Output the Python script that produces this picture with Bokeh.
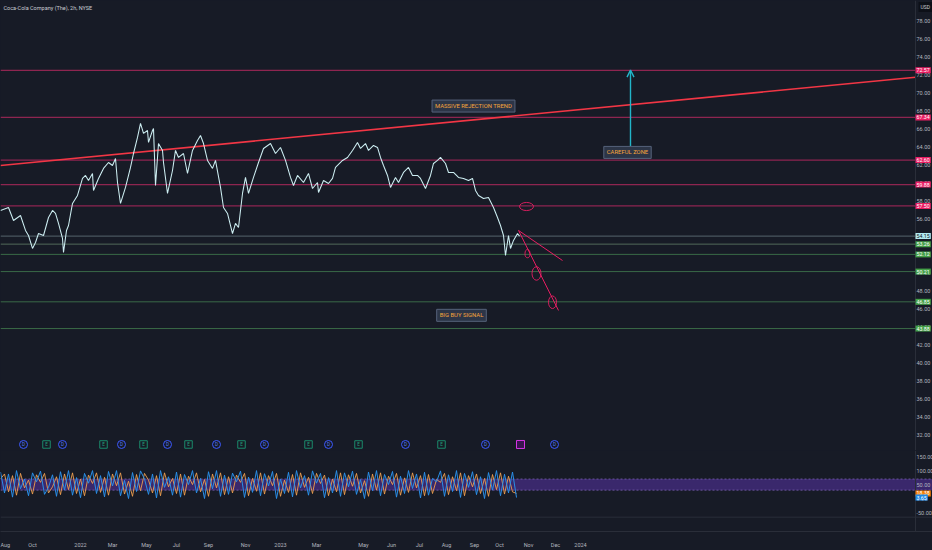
from bokeh.plotting import figure
from bokeh.layouts import column
from bokeh.models import (Range1d, FixedTicker, Label, Span, BoxAnnotation, Arrow, OpenHead,
                          GlobalInlineStyleSheet)
from bokeh.embed import file_html
from bokeh.resources import INLINE
from bokeh.core.properties import value

# ---------------- data ----------------
# price series (bar index, close)
bar = [0, 8, 13, 20, 25, 28, 32, 35, 38, 43, 48, 52, 55, 58, 62, 63, 66, 68, 72, 77,
       82, 85, 88, 92, 93, 98, 103, 108, 112, 115, 117, 120, 125, 130, 133, 137, 140, 143, 147, 148,
       152, 153, 155, 158, 162, 163, 167, 172, 175, 178, 183, 187, 192, 197, 200, 203, 207, 212, 215, 220,
       223, 227, 232, 235, 238, 242, 245, 248, 253, 258, 263, 270, 275, 280, 285, 290, 293, 297, 303, 308,
       312, 317, 318, 323, 328, 332, 335, 342, 347, 352, 357, 360, 365, 368, 373, 377, 380, 383, 387, 390,
       395, 398, 403, 408, 412, 417, 420, 425, 430, 433, 437, 440, 445, 448, 453, 458, 463, 468, 472, 475,
       478, 483, 488, 493, 497, 500, 503, 505, 508, 510, 513, 517, 519]
close = [57.00, 57.33, 55.89, 56.44, 54.78, 54.22, 52.78, 53.44, 54.44, 54.22, 56.22, 57.00, 56.67, 55.56, 53.89, 52.33, 54.78, 55.33, 57.78, 58.67,
         60.56, 60.89, 60.33, 61.11, 59.22, 60.56, 61.67, 62.33, 62.00, 62.78, 60.11, 57.78, 59.56, 61.78, 63.33, 65.11, 66.67, 65.56, 65.89, 64.56,
         65.89, 66.11, 59.78, 64.44, 63.67, 62.33, 58.89, 61.44, 63.67, 62.89, 63.33, 61.11, 63.67, 64.78, 65.33, 64.44, 62.56, 61.67, 62.56, 59.56,
         57.33, 56.67, 54.44, 55.56, 55.11, 58.89, 60.67, 58.89, 60.67, 62.33, 63.89, 64.44, 63.33, 64.00, 62.56, 60.67, 59.78, 60.89, 60.11, 61.11,
         59.44, 60.11, 59.00, 60.33, 60.00, 60.56, 61.78, 62.56, 62.89, 63.67, 64.56, 63.89, 64.44, 63.67, 64.22, 64.00, 62.89, 62.00, 60.89, 59.56,
         60.67, 60.11, 61.22, 61.78, 60.89, 60.89, 60.56, 59.44, 60.89, 62.22, 62.56, 62.89, 62.22, 61.22, 61.22, 60.67, 60.56, 60.33, 60.56, 59.22,
         58.67, 58.33, 58.44, 57.33, 56.22, 55.33, 54.22, 52.00, 54.22, 52.78, 53.67, 54.44, 54.15]

# horizontal price levels
res_levels = [72.57, 67.34, 62.60, 59.88, 57.50]
last_price = [54.15]
sup_levels = [53.26, 52.12, 50.21, 46.85, 43.88]

# drawings
trend_bar = [0, 915]
trend_price = [62.0, 71.8]
fan_bar = [518, 562, 518, 558]
fan_price = [54.78, 51.44, 54.78, 45.89]
circle_bar = [526, 536, 552, 527]
circle_price = [57.44, 50.0, 46.8, 52.2]
arrow_bar = [630, 630]
arrow_price = [64.1, 72.6]
notes = ["MASSIVE REJECTION TREND", "CAREFUL ZONE", "BIG BUY SIGNAL"]
note_bar = [473, 627, 461]
note_price = [68.6, 63.45, 45.35]

# events
dividend_bar = [23, 62, 121, 167, 216, 264, 328, 405, 485, 554]
earnings_bar = [46, 103, 143, 188, 241, 308, 358, 441]
next_earnings_bar = [520]
event_price = 31.0

# Stoch RSI
stoch_k = [95, 20, 88, 5, 100, 35, 70, 10, 92, 60,
           98, 15, 40, 85, 8, 96, 30, 100, 12, 75,
           3, 90, 55, 100, 18, 82, 6, 97, 45, 100,
           10, 65, 0, 93, 25, 99, 70, 15, 88, 2,
           100, 40, 78, 12, 95, 5, 86, 50, 100, 20,
           72, 0, 96, 35, 100, 8, 84, 15, 91, 60,
           98, 4, 77, 22, 100, 10, 89, 45, 97, 0,
           70, 18, 94, 6, 100, 38, 82, 12, 99, 55,
           90, 3, 75, 20, 100, 8, 92, 42, 98, 15,
           68, 0, 95, 28, 100, 10, 86, 50, 97, 5,
           80, 18, 100, 36, 88, 2, 94, 12, 72, 60,
           99, 8, 85, 25, 100, 4, 90, 40, 96, 14,
           78, 0, 93, 30, 100, 10, 87, 20, 95, 3.65]
stoch_d = [70, 88, 24, 82, 12, 90, 38, 66, 16, 85,
           58, 90, 20, 42, 78, 14, 88, 32, 92, 18,
           70, 10, 84, 54, 92, 22, 76, 12, 88, 46,
           92, 16, 62, 8, 86, 28, 90, 66, 20, 82,
           10, 92, 42, 72, 18, 88, 12, 80, 50, 92,
           24, 68, 8, 88, 38, 92, 14, 78, 20, 84,
           58, 90, 10, 72, 26, 92, 16, 82, 46, 90,
           8, 66, 22, 86, 12, 92, 40, 76, 18, 90,
           54, 84, 10, 70, 24, 92, 14, 85, 44, 90,
           20, 64, 8, 88, 30, 92, 16, 80, 50, 90,
           12, 74, 22, 92, 38, 82, 10, 86, 18, 68,
           58, 90, 14, 78, 28, 92, 10, 82, 42, 88,
           18, 72, 8, 86, 32, 92, 16, 80, 24, 18.38]
stoch_step = 4
band = [30, 70]

# axes
tick_bar = [0, 32, 80, 112, 146, 176, 208, 245, 280, 316, 363, 391, 419, 446, 474, 499, 528, 555, 580]
tick_label = ["Aug", "Oct", "2022", "Mar", "May", "Jul", "Sep", "Nov", "2023", "Mar",
              "May", "Jun", "Jul", "Aug", "Sep", "Oct", "Nov", "Dec", "2024"]
price_ticks = [32, 34, 36, 38, 40, 42, 44, 46, 48, 50, 52, 54, 56, 58, 60, 62, 64, 66, 68, 70,
               72, 74, 76, 78]
osc_ticks = [-50, 0, 50, 100, 150]

# ---------------- style ----------------
BG = "#171b26"
GRID = "#2a2e39"
AXIS_TXT = "#b2b5be"
FONT = "Roboto"
PINK = "#e91e63"
PINK_LINE = "#8e2550"
GREEN = "#43a047"
GREEN_LINE = "#3a6a47"
W = 932
X_END = 932       # full canvas width in bar units
SCALE_X = 915     # where the price scale begins
LAB_X = 916

x_range = Range1d(0, X_END)


def style_fig(f):
    f.grid.visible = False
    f.outline_line_color = None


# ---------------- main pane ----------------
p1 = figure(width=W, height=450, x_range=x_range, y_range=Range1d(30.33, 80.33),
            output_backend="svg", toolbar_location=None, x_axis_location=None,
            y_axis_location=None, min_border=0,
            background_fill_color=BG, border_fill_color=BG)
style_fig(p1)

# levels
p1.segment(x0=[0] * len(res_levels), x1=[SCALE_X] * len(res_levels), y0=res_levels, y1=res_levels,
           line_color=PINK_LINE, line_width=1.2)
p1.segment(x0=[0], x1=[SCALE_X], y0=last_price, y1=last_price, line_color="#56646c", line_width=1)
p1.segment(x0=[0] * len(sup_levels), x1=[SCALE_X] * len(sup_levels), y0=sup_levels, y1=sup_levels,
           line_color=["#52695a"] + [GREEN_LINE] * (len(sup_levels) - 1), line_width=1)

# trend line
p1.line(trend_bar, trend_price, line_color="#f23645", line_width=1.6)

# price
p1.line(bar, close, line_color="#cdeef2", line_width=1.05)

# fan lines
p1.segment(x0=fan_bar[0::2], y0=fan_price[0::2], x1=fan_bar[1::2], y1=fan_price[1::2],
           line_color=PINK, line_width=1)
# circles
p1.ellipse(x=circle_bar, y=circle_price, width=[14, 9, 8, 5], height=[0.9, 1.5, 1.4, 0.9],
           fill_alpha=0, line_color=PINK, line_width=0.9)

# events
n_div = len(dividend_bar)
p1.scatter(dividend_bar, [event_price] * n_div, marker="circle", size=8,
           fill_color=BG, line_color="#3d5afe", line_width=1)
p1.text(dividend_bar, [event_price] * n_div, text=["D"] * n_div,
        text_font=value(FONT), text_font_size="4.5px", text_color="#5c7cfa",
        text_align="center", text_baseline="middle")
n_earn = len(earnings_bar)
p1.scatter(earnings_bar, [event_price] * n_earn, marker="square", size=7.5,
           fill_color=BG, line_color="#1b8a6b", line_width=1)
p1.text(earnings_bar, [event_price] * n_earn, text=["E"] * n_earn,
        text_font=value(FONT), text_font_size="4.5px", text_color="#26a67f",
        text_align="center", text_baseline="middle")
p1.scatter(next_earnings_bar, [event_price], marker="square", size=8,
           fill_color="#3a1450", line_color="#d633e6", line_width=1)

# price scale: separator + tick labels
p1.add_layout(Span(location=SCALE_X, dimension="height", line_color=GRID, line_width=1))
p1.add_layout(Span(location=30.33, dimension="width", line_color=GRID, line_width=1))
p1.text([LAB_X] * len(price_ticks), price_ticks, text=[f"{t:.2f}" for t in price_ticks],
        text_font=value(FONT), text_font_size="5.5px", text_color=AXIS_TXT,
        text_align="left", text_baseline="middle")

# arrow
p1.add_layout(Arrow(end=OpenHead(size=7, line_color="#22b5c9", line_width=1.4),
                    x_start=arrow_bar[0], y_start=arrow_price[0],
                    x_end=arrow_bar[1], y_end=arrow_price[1],
                    line_color="#22b5c9", line_width=1.4))

# notes
for t, xb, yp in zip(notes, note_bar, note_price):
    p1.add_layout(Label(x=xb, y=yp, text=t, text_align="center", text_baseline="middle",
                        text_font=FONT, text_font_size="5.9px", text_color="#f7a53b",
                        background_fill_color="#2c3547", border_line_color="#55627a",
                        border_line_width=1, padding=3))


def axis_label(fig, v, bg, fg):
    fig.add_layout(Label(x=SCALE_X, y=v, x_offset=0, text=f"{v:.2f}", text_align="left",
                         text_baseline="middle", text_font=FONT, text_font_size="5.3px",
                         text_color=fg, background_fill_color=bg, padding=1))


for v in res_levels:
    axis_label(p1, v, PINK, "white")
axis_label(p1, last_price[0], "#b2ebf2", "#131722")
for v in sup_levels:
    axis_label(p1, v, GREEN, "white")

# title + currency
p1.add_layout(Label(x=0, y=79.55, x_offset=3, text="Coca-Cola Company (The), 2h, NYSE",
                    text_baseline="middle", text_font=FONT, text_font_size="5.5px",
                    text_color="#c8cbd3"))
p1.add_layout(Label(x=LAB_X, y=79.6, x_offset=2, text="USD", text_baseline="middle",
                    text_font=FONT, text_font_size="5px", text_color="#c8cbd3",
                    background_fill_color="#0d1018", padding=2))

# ---------------- oscillator pane ----------------
p2 = figure(width=W, height=100, x_range=x_range, y_range=Range1d(-118, 172),
            output_backend="svg", toolbar_location=None, y_axis_location=None,
            min_border_left=0, min_border_right=0, min_border_top=0, min_border_bottom=13,
            background_fill_color=BG, border_fill_color=BG)
style_fig(p2)
ax2 = p2.xaxis[0]
ax2.ticker = FixedTicker(ticks=tick_bar)
ax2.major_label_overrides = {t: s for t, s in zip(tick_bar, tick_label)}
ax2.major_label_text_font = FONT
ax2.major_label_text_font_size = "5.5px"
ax2.major_label_text_color = AXIS_TXT
ax2.major_tick_line_color = None
ax2.minor_tick_line_color = None
ax2.axis_line_color = GRID
ax2.major_label_standoff = 4

p2.add_layout(BoxAnnotation(bottom=band[0], top=band[1], fill_color="#5e35b1", fill_alpha=0.5,
                            line_alpha=0, level="underlay"))
for v in band:
    p2.add_layout(Span(location=v, dimension="width", line_color="#9575cd", line_alpha=0.6,
                       line_dash="2 2", line_width=1, level="underlay"))
p2.add_layout(Span(location=-66.7, dimension="width", line_color=GRID, line_width=1))
p2.add_layout(Span(location=SCALE_X, dimension="height", line_color=GRID, line_width=1))

k_bar = [i * stoch_step for i in range(len(stoch_k))]
d_bar = [i * stoch_step for i in range(len(stoch_d))]
p2.line(d_bar, stoch_d, line_color="#f0a050", line_width=1, line_alpha=0.9)
p2.line(k_bar, stoch_k, line_color="#2a8fe8", line_width=1)

p2.text([LAB_X] * len(osc_ticks), osc_ticks, text=[f"{t:.2f}" for t in osc_ticks],
        text_font=value(FONT), text_font_size="5.5px", text_color=AXIS_TXT,
        text_align="left", text_baseline="middle")
for v, bg in ((stoch_d[-1], "#f57c00"), (stoch_k[-1], "#1e88e5")):
    axis_label(p2, v, bg, "white")

layout = column(p1, p2, spacing=0,
                stylesheets=[GlobalInlineStyleSheet(css="html, body { background-color: #171b26; }")])

open("out.html", "w").write(file_html(layout, INLINE))
